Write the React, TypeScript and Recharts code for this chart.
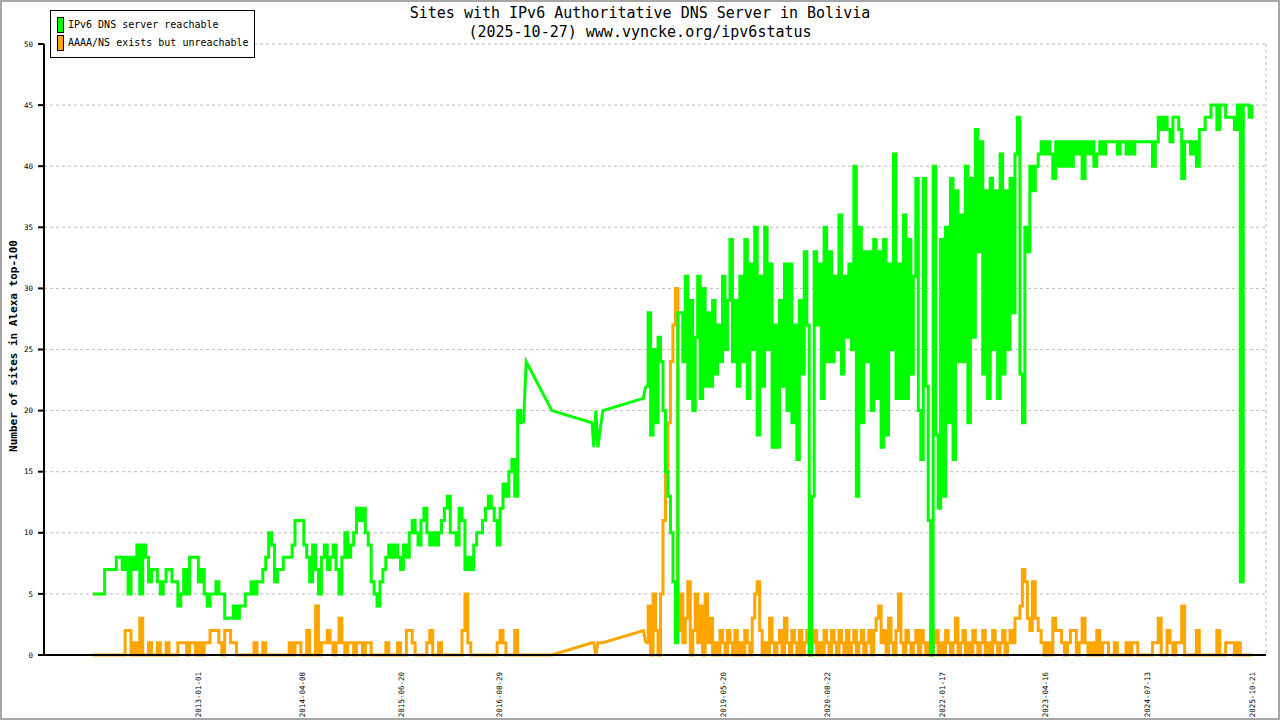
import { LineChart, Line, XAxis, YAxis, CartesianGrid } from "recharts";

const MONO = '"DejaVu Sans Mono", "Liberation Mono", monospace';
const DAY_MS = 86400000;
const toDay = (s: string) => Date.parse(s + "T00:00:00Z") / DAY_MS;
const fmtDay = (d: number) => new Date(Math.round(d) * DAY_MS).toISOString().slice(0, 10);

// x-axis range and the dates printed under it
const axisStart = "2011-02-16";
const axisEnd = "2025-12-22";
const dateLabels = [
  "2013-01-01", "2014-04-08", "2015-06-20", "2016-08-29", "2019-05-20",
  "2020-08-22", "2022-01-17", "2023-04-16", "2024-07-13", "2025-10-21",
];
const yTicks = [0, 5, 10, 15, 20, 25, 30, 35, 40, 45, 50];

// 2011-09 .. 2016-12, one reading every 13 days
const earlyStart = "2011-09-21";
const earlyStepDays = 13;
const earlyReachable = [
  5, 5, 5, 5, 7, 7, 7, 7, 8, 8,
  7, 8, 5, 8, 7, 9, 5, 9, 8, 6,
  7, 7, 6, 5, 6, 7, 7, 6, 6, 4,
  5, 7, 5, 8, 8, 8, 6, 7, 5, 4,
  5, 5, 6, 5, 5, 3, 3, 3, 4, 3,
  4, 4, 5, 5, 6, 5, 6, 6, 7, 8,
  10, 9, 6, 7, 7, 8, 8, 8, 9, 11,
  11, 11, 9, 8, 6, 9, 7, 5, 8, 9,
  7, 8, 9, 7, 5, 8, 10, 8, 9, 10,
  12, 11, 12, 10, 9, 6, 5, 4, 6, 7,
  8, 9, 8, 9, 8, 7, 9, 8, 10, 11,
  10, 9, 11, 12, 10, 9, 10, 9, 10, 11,
  12, 13, 10, 10, 9, 12, 11, 7, 8, 7,
  9, 10, 10, 11, 12, 13, 12, 11, 9, 12,
  14, 13, 15, 16, 13, 20, 19, 19,
];
const earlyUnreachable = [
  0, 0, 0, 0, 0, 0, 0, 0, 0, 0,
  0, 2, 2, 0, 1, 0, 3, 0, 0, 1,
  0, 0, 1, 0, 0, 1, 0, 0, 0, 1,
  1, 1, 0, 1, 1, 0, 1, 0, 1, 1,
  2, 2, 2, 1, 0, 2, 2, 1, 1, 0,
  0, 0, 0, 0, 0, 1, 0, 0, 1, 0,
  0, 0, 0, 0, 0, 0, 0, 1, 0, 1,
  1, 0, 0, 2, 0, 0, 4, 0, 1, 1,
  2, 1, 0, 1, 3, 1, 0, 1, 1, 0,
  1, 1, 0, 1, 1, 0, 0, 0, 0, 0,
  1, 0, 0, 0, 1, 0, 0, 2, 2, 1,
  0, 0, 0, 0, 1, 2, 0, 0, 1, 0,
  0, 0, 0, 0, 0, 0, 2, 5, 1, 0,
  0, 0, 0, 0, 0, 0, 0, 0, 1, 2,
  1, 0, 0, 0, 2, 0, 0, 0,
];

// sparse measurements 2017-2018 (drawn as straight segments)
const gapDates = [
  "2016-12-26", "2017-04-19", "2017-10-14", "2017-10-22", "2017-10-31",
  "2017-11-09", "2017-11-16", "2017-12-01", "2018-05-30",
];
const gapReachable = [24, 20, 19, 17, 20, 17, 18, 20, 21];
const gapUnreachable = [0, 0, 1, 1, 0, 1, 1, 1, 2];

// 2018-06 .. 2023-02, one reading every 11 days
const midStart = "2018-06-09";
const midStepDays = 11;
const midReachable = [
  22, 28, 18, 25, 19, 26, 24, 20, 15, 13,
  10, 6, 1, 28, 28, 24, 31, 21, 29, 20,
  26, 31, 21, 30, 22, 28, 22, 29, 23, 27,
  24, 31, 25, 29, 34, 24, 29, 22, 31, 24,
  34, 21, 32, 25, 35, 18, 31, 22, 35, 25,
  32, 17, 27, 17, 29, 22, 32, 20, 32, 19,
  27, 16, 29, 23, 33, 27, 0, 13, 33, 27,
  32, 21, 35, 24, 33, 24, 31, 25, 36, 23,
  31, 26, 32, 25, 40, 13, 35, 19, 33, 24,
  33, 20, 34, 21, 33, 17, 34, 18, 32, 25,
  41, 21, 32, 21, 36, 21, 34, 23, 31, 39,
  20, 16, 39, 22, 11, 0, 40, 18, 12, 34,
  13, 35, 19, 39, 16, 38, 24, 36, 24, 40,
  19, 39, 26, 43, 33, 42, 23, 38, 21, 39,
  25, 38, 21, 41, 23, 38, 25, 39, 28, 41,
  44, 23, 19, 35, 33, 40,
];
const midUnreachable = [
  1, 4, 0, 5, 2, 0, 5, 11, 15, 19,
  24, 27, 30, 2, 5, 1, 3, 6, 0, 2,
  5, 1, 4, 0, 5, 1, 3, 0, 1, 0,
  2, 1, 0, 2, 1, 0, 2, 0, 1, 0,
  2, 1, 0, 3, 5, 6, 2, 0, 1, 0,
  3, 1, 0, 1, 2, 0, 3, 1, 0, 2,
  1, 0, 2, 0, 1, 2, 0, 1, 2, 0,
  1, 0, 2, 1, 0, 2, 1, 0, 2, 1,
  0, 2, 0, 1, 2, 0, 1, 2, 0, 1,
  2, 0, 2, 3, 4, 1, 2, 0, 3, 1,
  0, 2, 5, 1, 0, 2, 1, 0, 1, 2,
  0, 2, 1, 0, 1, 0, 1, 2, 0, 1,
  0, 2, 1, 0, 1, 3, 0, 1, 2, 0,
  1, 0, 2, 1, 0, 1, 2, 0, 1, 0,
  2, 1, 0, 1, 2, 0, 1, 2, 1, 3,
  3, 4, 7, 6, 3, 2,
];

// 2023-02 .. 2025-10, one reading every 13 days
const lateStart = "2023-02-19";
const lateStepDays = 13;
const lateReachable = [
  38, 40, 41, 42, 41, 42, 41, 39, 42, 40,
  42, 40, 42, 40, 42, 41, 42, 39, 42, 41,
  42, 40, 41, 42, 41, 42, 42, 42, 42, 41,
  42, 42, 41, 42, 41, 42, 42, 42, 42, 42,
  42, 40, 42, 44, 43, 44, 43, 42, 44, 44,
  43, 39, 42, 42, 41, 42, 40, 43, 43, 44,
  44, 45, 45, 43, 45, 45, 44, 44, 44, 43,
  45, 6, 45, 45, 44, 45,
];
const lateUnreachable = [
  6, 3, 2, 1, 0, 1, 0, 3, 2, 2,
  1, 0, 1, 2, 2, 0, 1, 3, 1, 0,
  1, 0, 2, 0, 1, 1, 0, 0, 1, 0,
  0, 0, 1, 0, 1, 1, 0, 0, 0, 0,
  0, 1, 1, 3, 0, 0, 2, 1, 0, 1,
  1, 4, 0, 0, 0, 0, 2, 0, 0, 0,
  0, 0, 0, 2, 0, 0, 1, 1, 1, 0,
  1, 0, 0, 0, 0, 0,
];

interface Row {
  t: number;
  reachable?: number;
  unreachable?: number;
  reachableGap?: number;
  unreachableGap?: number;
}

function sampled(start: string, step: number, up: number[], down: number[]): Row[] {
  const t0 = toDay(start);
  return up.map((v, i) => ({ t: t0 + i * step, reachable: v, unreachable: down[i] }));
}

const earlyRows = sampled(earlyStart, earlyStepDays, earlyReachable, earlyUnreachable);
const midRows = sampled(midStart, midStepDays, midReachable, midUnreachable);
const lateRows = sampled(lateStart, lateStepDays, lateReachable, lateUnreachable);
const gapRows: Row[] = gapDates.map((d, i) => ({
  t: toDay(d),
  reachableGap: gapReachable[i],
  unreachableGap: gapUnreachable[i],
}));

// the straight gap segments start and end on the neighbouring readings
const lastEarly = earlyRows[earlyRows.length - 1];
lastEarly.reachableGap = lastEarly.reachable;
lastEarly.unreachableGap = lastEarly.unreachable;
midRows[0].reachableGap = midRows[0].reachable;
midRows[0].unreachableGap = midRows[0].unreachable;

const data: Row[] = [...earlyRows, ...gapRows, ...midRows, ...lateRows];

const domainStart = toDay(axisStart);
const domainEnd = toDay(axisEnd);
// 25 equal intervals, like the original grid
const gridTicks = Array.from({ length: 26 }, (_, k) => domainStart + ((domainEnd - domainStart) * k) / 25);
const labelTicks = dateLabels.map(toDay);

const GREEN = "#00ff00";
const ORANGE = "#ffa500";
const LINE_W = 3;

function DateTick(props: any) {
  const { x, y, payload } = props;
  const tx = x + 2.7;
  const ty = y + 7;
  return (
    <text
      x={tx}
      y={ty}
      transform={`rotate(-90 ${tx} ${ty})`}
      textAnchor="end"
      fontSize={7.5}
      fontFamily={MONO}
      fill="#000"
    >
      {fmtDay(payload.value)}
    </text>
  );
}

export default function App() {
  return (
    <div style={{ position: "absolute", left: 0, top: 0, width: 1280, height: 720, background: "#fff", overflow: "hidden" }}>
      <LineChart width={1280} height={720} data={data} margin={{ top: 44, right: 14, bottom: 0, left: 0 }}>
        <CartesianGrid stroke="#bdbdbd" strokeDasharray="3 3" />
        <XAxis
          xAxisId={0}
          dataKey="t"
          type="number"
          domain={[domainStart, domainEnd]}
          allowDataOverflow
          ticks={gridTicks}
          interval={0}
          tick={false}
          tickSize={6}
          height={10}
          axisLine={{ stroke: "#000", strokeWidth: 2 }}
          tickLine={{ stroke: "#000", strokeWidth: 2 }}
        />
        <XAxis
          xAxisId="dates"
          dataKey="t"
          type="number"
          domain={[domainStart, domainEnd]}
          allowDataOverflow
          ticks={labelTicks}
          interval={0}
          height={55}
          axisLine={false}
          tickLine={false}
          tickSize={0}
          tickMargin={0}
          tick={<DateTick />}
        />
        <YAxis
          type="number"
          domain={[0, 50]}
          ticks={yTicks}
          interval={0}
          width={44}
          tickSize={6}
          tickMargin={5}
          axisLine={{ stroke: "#000", strokeWidth: 2 }}
          tickLine={{ stroke: "#000", strokeWidth: 2 }}
          tick={{ fontSize: 7.5, fontFamily: MONO, fill: "#000" }}
        />
        <Line xAxisId={0} type="stepAfter" dataKey="unreachable" stroke={ORANGE} strokeWidth={LINE_W} dot={false} isAnimationActive={false} />
        <Line xAxisId={0} type="linear" dataKey="unreachableGap" stroke={ORANGE} strokeWidth={LINE_W} dot={false} isAnimationActive={false} />
        <Line xAxisId={0} type="stepAfter" dataKey="reachable" stroke={GREEN} strokeWidth={LINE_W} dot={false} isAnimationActive={false} />
        <Line xAxisId={0} type="linear" dataKey="reachableGap" stroke={GREEN} strokeWidth={LINE_W} dot={false} isAnimationActive={false} />
      </LineChart>

      {/* title */}
      <div style={{ position: "absolute", left: 0, top: 4, width: 1280, textAlign: "center", fontFamily: MONO, fontSize: 15, lineHeight: "19px", color: "#000" }}>
        <div>Sites with IPv6 Authoritative DNS Server in Bolivia</div>
        <div>(2025-10-27) www.vyncke.org/ipv6status</div>
      </div>

      {/* legend */}
      <div style={{ position: "absolute", left: 50, top: 10, width: 205, height: 48, boxSizing: "border-box", border: "1px solid #000", background: "#fff", fontFamily: MONO, fontSize: 10, color: "#000" }}>
        <div style={{ position: "absolute", left: 6, top: 6, width: 7, height: 16, boxSizing: "border-box", border: "1px solid #000", background: GREEN }} />
        <div style={{ position: "absolute", left: 17, top: 7, lineHeight: "14px", whiteSpace: "nowrap" }}>IPv6 DNS server reachable</div>
        <div style={{ position: "absolute", left: 6, top: 24, width: 7, height: 16, boxSizing: "border-box", border: "1px solid #000", background: ORANGE }} />
        <div style={{ position: "absolute", left: 17, top: 25, lineHeight: "14px", whiteSpace: "nowrap" }}>AAAA/NS exists but unreachable</div>
      </div>

      {/* y axis title */}
      <div style={{ position: "absolute", left: 13, top: 346, transform: "translate(-50%, -50%) rotate(-90deg)", fontFamily: MONO, fontSize: 11, fontWeight: "bold", whiteSpace: "nowrap", color: "#000" }}>
        Number of sites in Alexa top-100
      </div>

      {/* frame */}
      <div style={{ position: "absolute", inset: 0, boxSizing: "border-box", border: "2px solid #a6a6a6", pointerEvents: "none" }} />
    </div>
  );
}
